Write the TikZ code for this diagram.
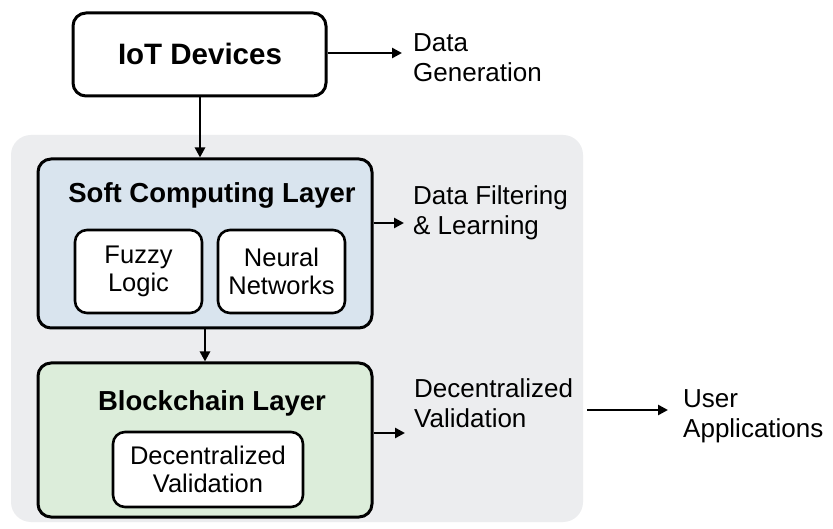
\documentclass[tikz,border=0pt]{standalone}
\usepackage{fontspec}
\setmainfont{Liberation Sans}
\usetikzlibrary{arrows.meta}
\definecolor{bggrey}{HTML}{ECEDEF}
\definecolor{softblue}{HTML}{D9E4EE}
\definecolor{chaingreen}{HTML}{DCEDDA}
\tikzset{
  box/.style={draw=black, line width=3pt, rounded corners=13pt, inner sep=0pt, align=center},
  inbox/.style={box, fill=white, line width=2.6pt, rounded corners=12pt, font=\fontsize{25.5}{28.5}\selectfont},
  ttl/.style={anchor=base, inner sep=0pt, font=\fontsize{27.5}{30}\selectfont\bfseries},
  lbl/.style={anchor=base west, align=left, inner sep=0pt, font=\fontsize{26}{30}\selectfont},
  arr/.style={line width=2.7pt, -{Triangle[length=10pt,width=10pt]}},
}
\begin{document}
\begin{tikzpicture}[x=1pt,y=-1pt]
\useasboundingbox (0,0) rectangle (833,529);
\fill[white] (0,0) rectangle (833,529);
\fill[bggrey, rounded corners=20pt] (11,135) rectangle (583,522);

\node[box, fill=white, minimum width=253pt, minimum height=83pt] (iot) at (199.5,54.5) {};
\node[ttl, font=\fontsize{29.5}{32}\selectfont\bfseries] (iott) at (200,65) {IoT Devices};
\node[lbl] (dg) at (413,82) {Data\\Generation};

\node[box, fill=softblue, minimum width=334pt, minimum height=169pt] (soft) at (205,243.5) {};
\node[ttl] (softt) at (212,203) {Soft Computing Layer};
\node[inbox, minimum width=127pt, minimum height=83pt] (fuzzy) at (138.5,271.5) {Fuzzy\\Logic};
\node[inbox, minimum width=127pt, minimum height=83pt] (neural) at (281.5,271.5) {Neural\\Networks};
\node[lbl] (dfl) at (413,235) {Data Filtering\\\& Learning};

\node[box, fill=chaingreen, minimum width=334pt, minimum height=154pt] (chain) at (205,440) {};
\node[ttl] (chaint) at (212,410) {Blockchain Layer};
\node[inbox, minimum width=190pt, minimum height=75pt] (dec) at (208,469.5) {Decentralized\\Validation};
\node[lbl] (dv) at (414,427) {Decentralized\\Validation};
\node[lbl] (ua) at (683,437) {User\\Applications};

\coordinate (a1) at (402,53);
\coordinate (a2) at (404,223);
\coordinate (a3) at (405,433);
\coordinate (a4s) at (587,410);
\coordinate (a4e) at (668,410);

\draw[arr] (iot.east |- a1) -- (a1);
\draw[arr] (iot.south -| 200,0) -- (soft.north -| 200,0);
\draw[arr] (soft.east |- a2) -- (a2);
\draw[arr] (soft.south -| 205,0) -- (chain.north -| 205,0);
\draw[arr] (chain.east |- a3) -- (a3);
\draw[arr] (a4s) -- (a4e);
\end{tikzpicture}
\end{document}
